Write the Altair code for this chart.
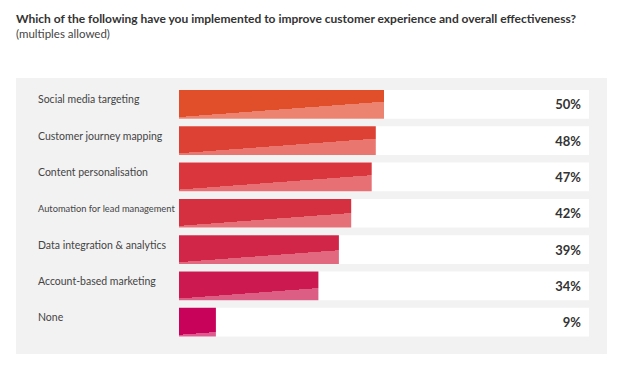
import altair as alt
import pandas as pd

categories = [
    "Social media targeting",
    "Customer journey mapping",
    "Content personalisation",
    "Automation for lead management",
    "Data integration & analytics",
    "Account-based marketing",
    "None",
]
values = [50, 48, 47, 42, 39, 34, 9]

dark_colors = ["#E04E2A", "#DD4134", "#D9373D", "#D5303F", "#D22649", "#CC1A51", "#C8025A"]
light_colors = ["#EC8370", "#E9776F", "#E77074", "#E57078", "#E1687F", "#DC5E85", "#DE5A8F"]

df = pd.DataFrame({"category": categories, "value": values})
df["label"] = df["value"].astype(str) + "%"
df["zero"] = 0
df["full"] = 100

PX_PER_PCT = 4.1
BAR_H = 28.7
SLOPE = 0.075
V0 = 0.94

x_scale = alt.Scale(domain=[0, 100], range=[163, 573], nice=False, zero=False)
y_scale = alt.Scale(domain=categories, range=[12, 258.5], paddingInner=0.209, paddingOuter=0)

base = alt.Chart(df)

track = base.mark_bar(color="#FFFFFF").encode(
    x=alt.X("zero:Q", scale=x_scale, axis=None),
    x2="full:Q",
    y=alt.Y("category:N", scale=y_scale, axis=None),
)

layers = [track]
for cat, val, dc, lc in zip(categories, values, dark_colors, light_colors):
    w = val * PX_PER_PCT
    k = w * SLOPE / BAR_H
    s = (k + 1) / (k * k + 1)
    o = min(max(V0 / (k + 1), 0.0), 1.0)
    grad = alt.LinearGradient(
        gradient="linear",
        x1=0, y1=0, x2=k * s, y2=s,
        stops=[
            alt.GradientStop(offset=0, color=dc),
            alt.GradientStop(offset=o, color=dc),
            alt.GradientStop(offset=o, color=lc),
            alt.GradientStop(offset=1, color=lc),
        ],
    )
    bar = base.transform_filter(alt.datum.category == cat).mark_bar(color=grad).encode(
        x=alt.X("zero:Q", scale=x_scale, axis=None),
        x2="value:Q",
        y=alt.Y("category:N", scale=y_scale, axis=None),
    )
    layers.append(bar)

long_label = "Automation for lead management"

cat_labels = base.mark_text(
    align="left", baseline="middle", font="Lato", color="#444444", dy=-4
).encode(
    x=alt.value(22),
    y=alt.Y("category:N", scale=y_scale, axis=None),
    text="category:N",
    size=alt.condition(alt.datum.category == long_label, alt.value(9.3), alt.value(10.5)),
)

val_labels = base.mark_text(
    align="right", baseline="middle", font="Lato", fontSize=13, fontWeight="bold", color="#333333", dy=1
).encode(
    x=alt.value(565),
    y=alt.Y("category:N", scale=y_scale, axis=None),
    text="label:N",
)

layers += [cat_labels, val_labels]

chart = alt.layer(*layers).properties(
    width=591,
    height=276,
    autosize="none",
    padding={"left": 8, "top": 70, "right": 7, "bottom": 8},
    title=alt.TitleParams(
        text="Which of the following have you implemented to improve customer experience and overall effectiveness?",
        subtitle="(multiples allowed)",
        anchor="start",
        frame="group",
        font="Lato",
        fontSize=12,
        fontWeight="bold",
        color="#333333",
        subtitleFont="Lato",
        subtitleFontSize=11.5,
        subtitleColor="#444444",
        subtitlePadding=3,
        offset=37,
    ),
).configure_view(fill="#F2F2F2", strokeWidth=0)

chart.save("out.html", embed_options={"renderer": "svg", "actions": False})
